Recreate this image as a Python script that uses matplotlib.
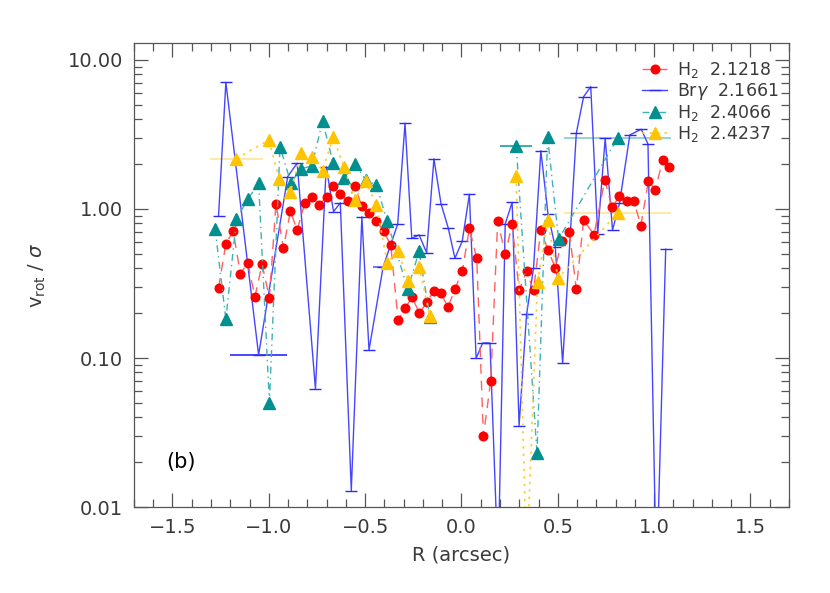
import numpy as np
import matplotlib
matplotlib.use('Agg')
import matplotlib.pyplot as plt
from matplotlib.ticker import LogLocator, MultipleLocator, FixedLocator, NullFormatter

nan = np.nan

# H2 2.1218
r_red = [-1.261, -1.223, -1.185, -1.148, -1.110, -1.072, -1.035, -0.997, -0.963, -0.924,
         -0.888, -0.853, -0.813, -0.775, -0.739, -0.700, -0.666, -0.628, -0.590, -0.553,
         -0.517, -0.480, -0.442, -0.404, -0.367, -0.329, -0.293, -0.256, -0.218, -0.181,
         -0.143, -0.108, -0.070, -0.034, 0.004, 0.041, 0.079, 0.114, 0.152, 0.188,
         0.227, 0.263, 0.299, 0.338, 0.374, 0.412, 0.449, 0.487, 0.523, 0.560,
         0.596, 0.634, 0.688, 0.744, 0.782, 0.820, 0.857, 0.895, 0.931, 0.970,
         1.006, 1.044, 1.079]
v_red = [0.296, 0.585, 0.711, 0.368, 0.435, 0.258, 0.425, 0.253, 1.086, 0.545,
         0.97, 0.72, 1.10, 1.205, 1.07, 1.20, 1.42, 1.26, 1.13, 1.43,
         1.04, 0.935, 0.836, 0.708, 0.573, 0.180, 0.217, 0.255, 0.20, 0.236,
         0.283, 0.274, 0.219, 0.290, 0.382, 0.741, 0.469, 0.030, 0.0705, 0.83,
         0.497, 0.793, 0.284, 0.382, 0.284, 0.722, 0.531, 0.404, 0.612, 0.70,
         0.29, 0.843, 0.673, 1.56, 1.026, 1.22, 1.14, 1.13, 0.773, 1.535,
         1.35, 2.12, 1.91]

# Br gamma 2.1661
r_brg = [-1.261, -1.223, -1.053, -0.902, -0.853, -0.758, -0.702, -0.664, -0.629, -0.572,
         -0.517, -0.480, -0.407, -0.331, -0.293, -0.258, -0.220, -0.181, -0.143, -0.106,
         -0.069, -0.034, 0.004, 0.041, 0.076, 0.110, 0.148, 0.190, 0.227, 0.263,
         0.299, 0.338, 0.374, 0.412, 0.449, 0.487, 0.525, 0.596, 0.634, 0.671,
         0.707, 0.746, 0.784, 0.820, 0.874, 0.933, 0.968, 1.012, 1.060]
v_brg = [0.90, 7.08, 0.105, 1.65, 2.03, 0.062, 1.92, 0.96, 1.10, 0.0129,
         0.888, 0.113, 0.407, 0.793, 3.76, 0.636, 0.67, 0.509, 2.17, 1.08,
         0.748, 0.467, 0.609, 1.256, 0.0996, 0.126, 0.126, 0.004, 0.793, 1.11,
         0.0352, 0.197, 0.40, 2.46, 0.925, 0.553, 0.092, 3.22, 5.67, 6.62,
         0.676, 2.98, 0.722, 1.09, 3.14, 3.43, 2.73, 0.003, 0.537]

# H2 2.4066
r_teal = [-1.279, -1.223, -1.168, -1.110, -1.053, -0.997, -0.942, -0.886, -0.832, -0.777,
          -0.721, -0.666, -0.610, -0.553, -0.497, -0.442, -0.386, -0.279, -0.220, -0.164,
          nan, 0.284, 0.392, 0.447, 0.504, 0.811]
v_teal = [0.738, 0.182, 0.853, 1.16, 1.49, 0.050, 2.62, 1.50, 1.86, 1.95,
          3.88, 2.04, 1.61, 2.00, 1.57, 1.45, 0.83, 0.289, 0.52, 0.189,
          nan, 2.65, 0.0231, 3.03, 0.627, 3.0]

# H2 2.4237
r_gold = [-1.168, -1.001, -0.945, -0.888, -0.832, -0.777, -0.721, -0.666, -0.610, -0.553,
          -0.497, -0.442, -0.386, -0.331, -0.275, -0.220, -0.164, nan, 0.284, 0.338,
          0.395, 0.447, 0.501, 0.811]
v_gold = [2.18, 2.90, 1.58, 1.31, 2.36, 2.24, 1.81, 3.05, 1.91, 1.15,
          1.53, 1.07, 0.437, 0.523, 0.330, 0.41, 0.191, nan, 1.66, 0.004,
          0.325, 0.843, 0.343, 0.94]

# binned points with horizontal bars
bin_r = [-1.053, -0.407, -1.168, 0.284, 0.811, 0.811]
bin_v = [0.105, 0.407, 2.18, 2.65, 3.0, 0.94]
bin_dr = [0.147, 0.054, 0.138, 0.083, 0.278, 0.278]
bin_c = ['#3a3aff', '#6a6aff', '#ffe7a0', '#2aa8a8', '#8fd0d0', '#ffe7a0']

labels = [r'H$_2$  2.1218', r'Br$\gamma$  2.1661', r'H$_2$  2.4066', r'H$_2$  2.4237']

plt.rcParams['font.family'] = 'DejaVu Sans'
plt.rcParams['mathtext.fontset'] = 'dejavusans'

fig = plt.figure(figsize=(8.3, 5.93), dpi=100)
ax = fig.add_axes([0.1614, 0.145, 0.7892, 0.7825])

for r, v, dr, c in zip(bin_r, bin_v, bin_dr, bin_c):
    ax.errorbar([r], [v], xerr=[dr], fmt='none', ecolor=c, elinewidth=1.3, capsize=0, zorder=1)

ax.plot(r_red, v_red, color='#ff6060', marker='o', ms=6.2, mec='#ff0000', mfc='#ff0000',
        ls=(0, (7, 5)), lw=1, label=labels[0], zorder=3)
ax.plot(r_brg, v_brg, color='#4646ff', marker='_', ms=9, mew=1, mec='#2828ff', ls='-', lw=1,
        label=labels[1], zorder=2)
ax.plot(r_teal, v_teal, color='#40b2b2', marker='^', ms=8.5, mfc='#008f8f', mec='#008f8f',
        ls=(0, (5, 3, 1, 3)), lw=1, label=labels[2], zorder=4)
ax.plot(r_gold, v_gold, color='#ffcc33', marker='^', ms=8.5, mfc='#ffc400', mec='#ffc400',
        ls=(0, (1.5, 3)), lw=1.2, label=labels[3], zorder=5)

ax.set_yscale('log')
ax.set_xlim(-1.7, 1.7)
ax.set_ylim(0.01, 13)

ax.xaxis.set_major_locator(MultipleLocator(0.5))
ax.xaxis.set_minor_locator(MultipleLocator(0.1))
ax.yaxis.set_major_locator(FixedLocator([0.01, 0.1, 1, 10]))
ax.yaxis.set_minor_locator(LogLocator(base=10, subs=np.arange(2, 10)))
ax.yaxis.set_minor_formatter(NullFormatter())
ax.set_yticklabels(['0.01', '0.10', '1.00', '10.00'])
ax.set_xticks([-1.5, -1.0, -0.5, 0.0, 0.5, 1.0, 1.5])
ax.set_xticklabels(['\u22121.5', '\u22121.0', '\u22120.5', '0.0', '0.5', '1.0', '1.5'])

txtc = '#3a3a3a'
ax.tick_params(which='both', direction='in', top=True, right=True, colors='#555555',
               labelcolor=txtc, labelsize=14, width=0.9)
ax.tick_params(which='major', length=10, pad=8)
ax.tick_params(which='minor', length=6)
for s in ax.spines.values():
    s.set_color('#555555')
    s.set_linewidth(0.9)

ax.set_xlabel('R (arcsec)', fontsize=14, color=txtc, labelpad=6)
ax.set_ylabel(r'v$_{\rm rot}$ / $\sigma$', fontsize=14, color=txtc, labelpad=14)
ax.text(0.05, 0.085, '(b)', transform=ax.transAxes, fontsize=15, color='black')

leg = ax.legend(loc='upper right', bbox_to_anchor=(1.0, 0.985), frameon=False, fontsize=12.5,
                handlelength=1.4, handletextpad=0.6, labelspacing=0.05, borderaxespad=0.2,
                numpoints=1)
for t in leg.get_texts():
    t.set_color(txtc)

fig.savefig('out.png', dpi=100)
